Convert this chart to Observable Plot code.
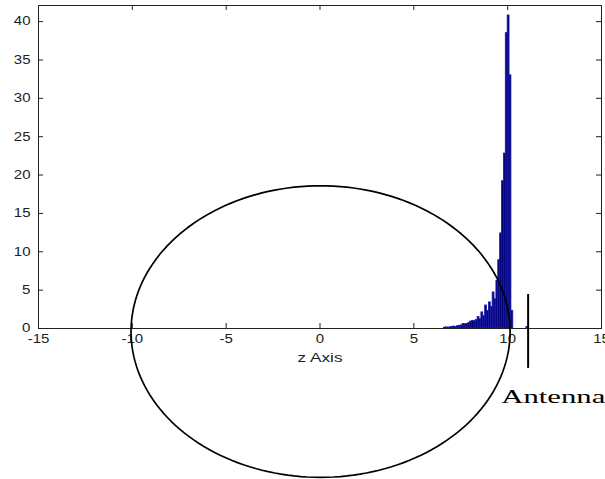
<!DOCTYPE html>
<html><head><meta charset="utf-8">
<script src="https://cdn.jsdelivr.net/npm/d3@7"></script>
<script src="https://cdn.jsdelivr.net/npm/@observablehq/plot@0.6"></script>
<style>html,body{margin:0;padding:0;background:#fff;overflow:hidden} #chart svg{display:block}</style>
</head><body><div id="chart"></div>
<script>
// Histogram bins (left edge) and counts
const binStarts = [6.6, 6.7, 6.8, 6.9, 7.0, 7.1, 7.2, 7.3, 7.4, 7.5, 7.6, 7.7, 7.8, 7.9,
                   8.0, 8.1, 8.2, 8.3, 8.4, 8.5, 8.6, 8.7, 8.8, 8.9,
                   9.0, 9.1, 9.2, 9.3, 9.4, 9.5, 9.6, 9.7, 9.8, 9.9,
                   10.0, 10.1, 10.2, 11.0];
const binCounts = [0.1, 0.15, 0.1, 0.15, 0.2, 0.25, 0.2, 0.3, 0.35, 0.4, 0.6, 0.55, 0.6, 0.7,
                   0.9, 1.0, 0.95, 1.1, 1.5, 1.2, 2.1, 1.6, 3.0, 2.3,
                   3.4, 2.8, 4.7, 3.8, 6.2, 8.9, 12.4, 19.2, 22.8, 38.5,
                   40.8, 33.0, 2.3, 0.2];
const binWidth = 0.1;

const xTicks = [-15, -10, -5, 0, 5, 10, 15];
const yTicks = [0, 5, 10, 15, 20, 25, 30, 35, 40];

// Overlaid ellipse (centre and radii in data units)
const ellipseCenter = {x: 0.03, y: -0.4};
const ellipseRadius = {x: 10.1, y: 19.0};

// Antenna marker
const antennaX = [11.09];
const antennaSpan = {y1: 4.43, y2: -5.2};

const xLabel = ["z Axis"];
const annotation = [{text: "Antenna", x: 9.66, y: -8.95}];

const bins = binStarts.map((x0, i) => ({x1: x0, x2: x0 + binWidth, y: binCounts[i]}));
const ellipse = d3.range(0, 360, 2).map(a => {
  const t = a * Math.PI / 180;
  return {x: ellipseCenter.x + ellipseRadius.x * Math.cos(t), y: ellipseCenter.y + ellipseRadius.y * Math.sin(t)};
});

const W = 605, H = 479, mL = 38, mR = 4, mT = 5, mB = 151;
const plotW = W - mL - mR, plotH = H - mT - mB;
const tickLen = 5;
const ink = "#222";

const chart = Plot.plot({
  width: W, height: H,
  marginLeft: mL, marginRight: mR, marginTop: mT, marginBottom: mB,
  x: {domain: [-15, 15]},
  y: {domain: [0, 42.1]},
  style: {fontFamily: "'Liberation Sans', Arial, sans-serif", fontSize: "12px", color: ink, background: "#fff", overflow: "visible"},
  marks: [
    Plot.rectY(bins, {x1: "x1", x2: "x2", y: "y", fill: "#000078", stroke: "#1a1aa8", strokeWidth: 0.8}),
    Plot.tickX(xTicks, {x: d => d, insetTop: plotH - tickLen, stroke: ink}),
    Plot.tickX(xTicks, {x: d => d, insetBottom: plotH - tickLen, stroke: ink}),
    Plot.tickY(yTicks, {y: d => d, insetRight: plotW - tickLen, stroke: ink}),
    Plot.tickY(yTicks, {y: d => d, insetLeft: plotW - tickLen, stroke: ink}),
    Plot.frame({stroke: ink}),
    Plot.axisX(xTicks, {tickSize: 0, tickPadding: 6, tickFormat: d => String(d), label: null}),
    Plot.axisY(yTicks, {tickSize: 0, tickPadding: 8, tickFormat: d => String(d), label: null}),
    Plot.line(ellipse, {x: "x", y: "y", curve: "linear-closed", stroke: "#000", strokeWidth: 1.7}),
    Plot.ruleX(antennaX, {x: d => d, y1: antennaSpan.y1, y2: antennaSpan.y2, stroke: "#000", strokeWidth: 2}),
    Plot.text(xLabel, {text: d => d, frameAnchor: "bottom", dy: 29.5, lineAnchor: "middle", fontSize: 12}),
    Plot.text(annotation, {x: "x", y: "y", text: "text", textAnchor: "start", lineAnchor: "middle",
      fontFamily: "'Liberation Serif', 'Times New Roman', serif", fontSize: 19, fill: "#000"})
  ]
});

document.getElementById("chart").append(chart);

d3.select(chart).selectAll('g[aria-label$="tick label"] text').each(function() {
  const len = this.getComputedTextLength();
  this.setAttribute("textLength", (len * 1.25).toFixed(1));
  this.setAttribute("lengthAdjust", "spacingAndGlyphs");
});
d3.select(chart).selectAll("text").each(function() {
  const t = this.textContent;
  if (t === "Antenna") { this.setAttribute("textLength", 104); this.setAttribute("lengthAdjust", "spacingAndGlyphs"); }
  if (t === "z Axis") { this.setAttribute("textLength", 45); this.setAttribute("lengthAdjust", "spacingAndGlyphs"); }
});
</script>
</body></html>
